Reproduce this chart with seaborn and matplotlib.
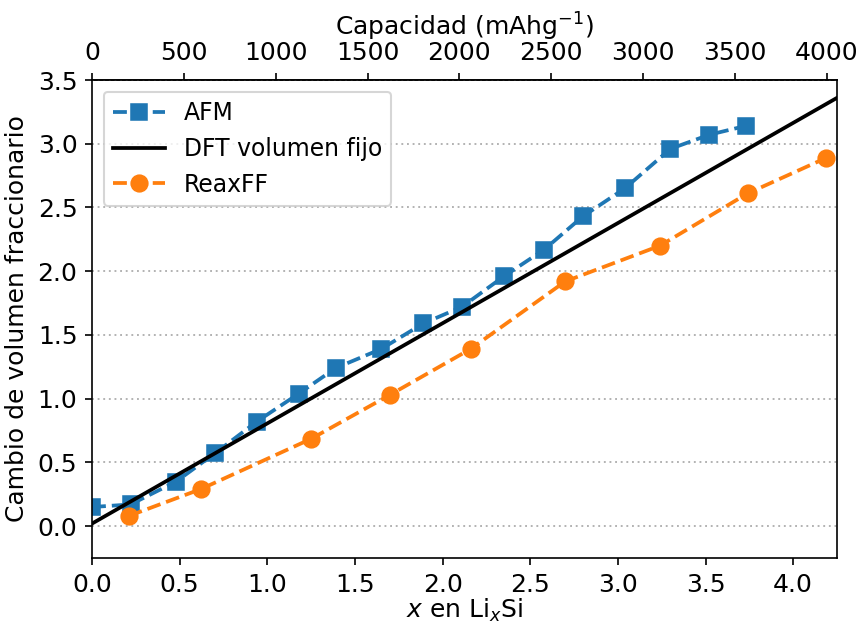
import numpy as np
import pandas as pd
import matplotlib
matplotlib.use("Agg")
import matplotlib.pyplot as plt
import seaborn as sns

afm_x = [0.0, 0.22, 0.48, 0.70, 0.94, 1.18, 1.39, 1.65, 1.89, 2.11, 2.35, 2.58, 2.80, 3.04, 3.30, 3.52, 3.73]
afm_y = [0.15, 0.17, 0.35, 0.57, 0.82, 1.04, 1.24, 1.39, 1.59, 1.72, 1.96, 2.17, 2.43, 2.65, 2.96, 3.07, 3.14]

dft_x = [0.0, 4.25]
dft_y = [0.02, 3.36]

reax_x = [0.21, 0.62, 1.25, 1.70, 2.16, 2.70, 3.24, 3.74, 4.19]
reax_y = [0.08, 0.29, 0.685, 1.03, 1.39, 1.92, 2.20, 2.61, 2.89]

cap_per_x = 954.4

fs = 12
plt.rcParams.update({"font.size": fs})

fig = plt.figure(figsize=(5.72, 4.14), dpi=150)
ax = fig.add_axes([92/858, 1-558/621, (837-92)/858, (558-80)/621])

sns.lineplot(x=afm_x, y=afm_y, ax=ax, color="#1f77b4", marker="s", markersize=8,
             markeredgecolor="#1f77b4", linestyle="--", label="AFM", lw=1.8)
sns.lineplot(x=dft_x, y=dft_y, ax=ax, color="black", linestyle="-", label="DFT volumen fijo", lw=1.8)
sns.lineplot(x=reax_x, y=reax_y, ax=ax, color="#ff7f0e", marker="o", markersize=8,
             markeredgecolor="#ff7f0e", linestyle="--", label="ReaxFF", lw=1.8)

ax.set_xlim(0, 4.25)
ax.set_ylim(-0.25, 3.5)
ax.set_yticks(np.arange(0, 3.51, 0.5))
ax.yaxis.grid(True, linestyle=(0, (1, 2)), color="#b0b0b0", lw=0.9)
ax.set_axisbelow(True)
ax.tick_params(labelsize=fs)
ax.set_xlabel("$x$ en Li$_x$Si", fontsize=fs, labelpad=0)
ax.set_ylabel("Cambio de volumen fraccionario", fontsize=fs, labelpad=4)
ax.legend(loc="upper left", fontsize=11.3, handlelength=2.2)

sec = ax.secondary_xaxis("top", functions=(lambda x: x*cap_per_x, lambda c: c/cap_per_x))
sec.set_xticks(np.arange(0, 4001, 500))
sec.tick_params(labelsize=fs)
sec.set_xlabel("Capacidad (mAhg$^{-1}$)", fontsize=fs, labelpad=3)

fig.savefig("out.png", dpi=150)
